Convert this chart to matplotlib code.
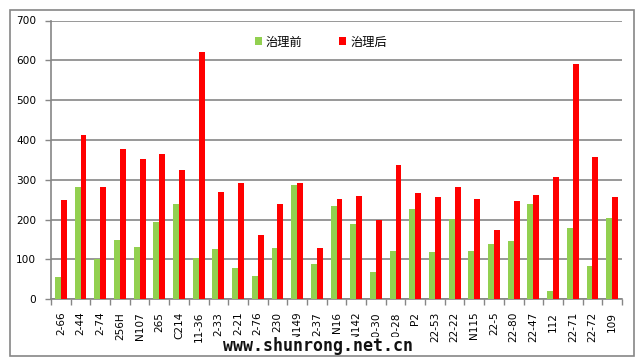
import matplotlib
matplotlib.use("Agg")
import matplotlib.pyplot as plt
from matplotlib.patches import Patch, Rectangle
import numpy as np

categories = ["2-66", "2-44", "2-74", "256H", "N107", "265", "C214", "11-36", "2-33", "2-21",
              "2-76", "230", "N149", "2-37", "N16", "N142", "10-30", "10-28", "P2", "22-53",
              "22-22", "N115", "22-5", "22-80", "22-47", "112", "22-71", "22-72", "109"]
before = [56, 282, 101, 149, 131, 194, 240, 104, 126, 79,
          59, 129, 287, 89, 235, 189, 69, 121, 227, 119,
          201, 121, 139, 147, 240, 21, 179, 84, 204]
after = [250, 413, 282, 378, 353, 365, 325, 621, 270, 292,
         162, 240, 292, 129, 252, 260, 199, 338, 267, 257,
         282, 252, 174, 247, 262, 307, 591, 358, 257]
series_names = ["治理前", "治理后"]
yticks = [0, 100, 200, 300, 400, 500, 600, 700]

W, H = 643, 361
fig = plt.figure(figsize=(W / 100, H / 100), dpi=100)
fig.patch.set_facecolor("white")

# outer border (drawn on top of the watermark box)
border = Rectangle((10 / W, 5 / H), 624 / W, 346 / H, transform=fig.transFigure,
                   fill=False, edgecolor="#868686", linewidth=1.2, zorder=20)
fig.patches.append(border)

ax = fig.add_axes([51 / W, (H - 299.3) / H, 571 / W, (299.3 - 20.5) / H])
x = np.arange(len(categories))
w = 0.3
green = "#92D050"
red = "#FF0000"
ax.bar(x - w / 2, before, width=w, color=green, zorder=3)
ax.bar(x + w / 2, after, width=w, color=red, zorder=3)

ax.set_xlim(-0.5, len(categories) - 0.5)
ax.set_ylim(0, 700)
ax.set_yticks(yticks)
ax.yaxis.grid(True, color="#868686", linewidth=1.2, zorder=0)
ax.set_axisbelow(True)

ax.set_xticks(x)
ax.set_xticklabels(categories, rotation=90, fontsize=7.6, fontfamily="DejaVu Sans")
ax.set_xticks(np.arange(len(categories) + 1) - 0.5, minor=True)
ax.tick_params(axis="x", which="major", length=0, pad=9)
ax.tick_params(axis="x", which="minor", length=4, color="#868686", width=1)
ax.tick_params(axis="y", length=4, color="#868686", width=1, pad=6.5, labelsize=7.6)

for s in ["top", "right"]:
    ax.spines[s].set_visible(False)
for s in ["left", "bottom"]:
    ax.spines[s].set_color("#868686")
    ax.spines[s].set_linewidth(1.2)

handles = [Patch(facecolor=green, edgecolor="none"), Patch(facecolor=red, edgecolor="none")]
leg = fig.legend(handles, series_names, loc="center", bbox_to_anchor=(321 / W, (H - 42) / H),
                 ncol=2, frameon=False, handlelength=0.55, handleheight=0.55, handletextpad=0.35,
                 columnspacing=3.0, prop={"family": ["Noto Sans CJK SC", "DejaVu Sans"], "size": 8.8})

fig.text(318 / W, (H - 346) / H, "www.shunrong.net.cn", ha="center", va="center",
         fontsize=12, fontweight="bold", family="DejaVu Sans Mono", color="#111111",
         bbox=dict(facecolor="white", edgecolor="none", pad=0.3), zorder=10)

fig.savefig("out.png", dpi=100)
